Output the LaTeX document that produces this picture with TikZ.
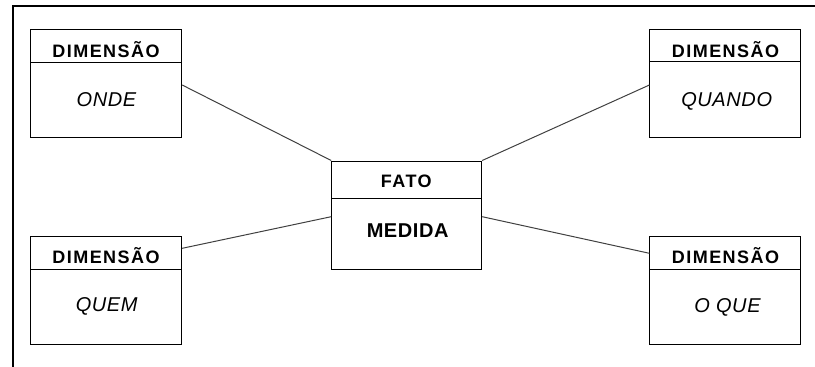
\documentclass[tikz,border=0pt]{standalone}
\usepackage{fontspec}
\setmainfont{Liberation Sans}
\newfontfamily\hdrfont[LetterSpace=8]{Liberation Sans Bold}
\newfontfamily\bodyfont[LetterSpace=3]{Liberation Sans Italic}
\newfontfamily\medfont[LetterSpace=3]{Liberation Sans Bold}
\begin{document}
\begin{tikzpicture}[x=1pt,y=-1pt,
  box/.style={draw=black,line width=1pt,rectangle,inner sep=0pt,minimum width=151pt,minimum height=108pt},
  factbox/.style={draw=black,line width=1pt,rectangle,inner sep=0pt,minimum width=150pt,minimum height=108pt},
  hdr/.style={anchor=base,inner sep=0pt,font=\hdrfont\fontsize{18}{20}\selectfont},
  body/.style={anchor=base,inner sep=0pt,font=\bodyfont\fontsize{20}{22}\selectfont},
  meas/.style={anchor=base,inner sep=0pt,font=\medfont\fontsize{20}{22}\selectfont},
  link/.style={draw=black!75,line width=1pt},
  frame/.style={draw=black,line width=1.3pt}]
\useasboundingbox (0,0) rectangle (815,367);
% frame
\coordinate (fr1) at (815,6);
\coordinate (fr2) at (13,6);
\coordinate (fr3) at (13,367);
\draw[frame] (fr1) -- (fr2) -- (fr3);
% boxes
\node[box] (onde) at (106.2,83.5) {};
\node[box] (quem) at (106.2,290.3) {};
\node[box] (quando) at (725.4,83.5) {};
\node[box] (oque) at (725.4,290.3) {};
\node[factbox] (fato) at (406.7,215) {};
% dividers
\draw[line width=1pt] ([yshift=-33pt]onde.north west) -- ([yshift=-33pt]onde.north east);
\draw[line width=1pt] ([yshift=-33.6pt]quem.north west) -- ([yshift=-33.6pt]quem.north east);
\draw[line width=1pt] ([yshift=-32.5pt]quando.north west) -- ([yshift=-32.5pt]quando.north east);
\draw[line width=1pt] ([yshift=-33.3pt]oque.north west) -- ([yshift=-33.3pt]oque.north east);
\draw[line width=1pt] ([yshift=-38pt]fato.north west) -- ([yshift=-38pt]fato.north east);
% texts
\node[hdr] (t1) at (106,57.3) {DIMENSÃO};
\node[body] (b1) at (106.5,106) {ONDE};
\node[hdr] (t2) at (106,263.3) {DIMENSÃO};
\node[body] (b2) at (106.7,311.7) {QUEM};
\node[hdr] (t3) at (725.5,57.3) {DIMENSÃO};
\node[body] (b3) at (726.7,106) {QUANDO};
\node[hdr] (t4) at (725.5,263.3) {DIMENSÃO};
\node[body] (b4) at (727.5,312) {O QUE};
\node[hdr] (t5) at (406.3,187.7) {FATO};
\node[meas] (b5) at (407.7,237.3) {MEDIDA};
% connectors
\draw[link] ([yshift=-1.5pt]onde.east) -- (fato.north west);
\draw[link] ([yshift=-1.5pt]quando.west) -- (fato.north east);
\draw[link] ([yshift=42pt]quem.east) -- ([yshift=-1.7pt]fato.west);
\draw[link] ([yshift=37pt]oque.west) -- ([yshift=-1.7pt]fato.east);
\end{tikzpicture}
\end{document}
